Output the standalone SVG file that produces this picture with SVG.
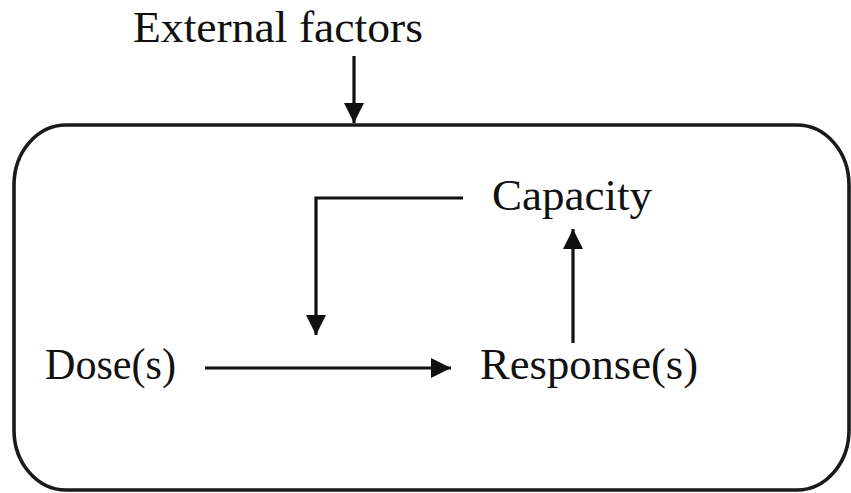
<svg xmlns="http://www.w3.org/2000/svg" width="851" height="493" viewBox="0 0 851 493">
<style>
text{font-family:"Liberation Serif","Times New Roman",serif;font-size:44px;fill:#111}
.ln{stroke:#111;stroke-width:3.2;fill:none}
.box{stroke:#1a1a1a;stroke-width:3.6;fill:none}
</style>
<defs>
<marker id="ah" viewBox="0 0 20 20" refX="20" refY="10" markerWidth="20" markerHeight="20" markerUnits="userSpaceOnUse" orient="auto">
<path d="M0,0 L20,10 L0,20 Z" fill="#111"/>
</marker>
</defs>
<rect width="851" height="493" fill="#fff"/>
<g id="system-box"><rect x="14" y="125" width="835" height="365" rx="52" ry="60" class="box"/></g>
<g id="external-factors"><text x="133" y="42" textLength="290" lengthAdjust="spacingAndGlyphs">External factors</text></g>
<g id="capacity"><text x="492" y="210" textLength="160" lengthAdjust="spacingAndGlyphs">Capacity</text></g>
<g id="dose"><text x="45" y="379" textLength="131" lengthAdjust="spacingAndGlyphs">Dose(s)</text></g>
<g id="response"><text x="480" y="379" textLength="218" lengthAdjust="spacingAndGlyphs">Response(s)</text></g>
<g id="connectors">
<path class="ln" d="M354,56 V123" marker-end="url(#ah)"/>
<path class="ln" d="M463,198 H316 V335" marker-end="url(#ah)"/>
<path class="ln" d="M573,343 V229" marker-end="url(#ah)"/>
<path class="ln" d="M205,368 H451" marker-end="url(#ah)"/>
</g>
</svg>
